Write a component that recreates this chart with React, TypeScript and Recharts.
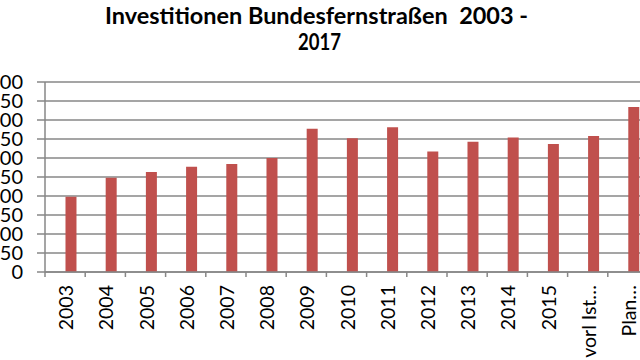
import React from 'react';
import { BarChart, Bar, XAxis, YAxis, CartesianGrid } from 'recharts';

const categories: string[] = [
  '2003', '2004', '2005', '2006', '2007', '2008', '2009', '2010',
  '2011', '2012', '2013', '2014', '2015', 'vorl Ist…', 'Plan…',
];
// empty first series (as in the original spreadsheet chart)
const emptySeries: (number | null)[] = [
  null, null, null, null, null, null, null, null,
  null, null, null, null, null, null, null,
];
const investitionen: number[] = [
  198, 248, 263, 277, 284, 300, 377, 352, 381, 317, 343, 354, 337, 358, 434,
];
const yTicks: number[] = [0, 50, 100, 150, 200, 250, 300, 350, 400, 450, 500];
const titleLine1 = 'Investitionen Bundesfernstraßen  2003 -';
const titleLine2 = '2017';

const data = categories.map((c, i) => ({
  name: c,
  leer: emptySeries[i],
  wert: investitionen[i],
}));

const GRID = '#878787';
const HALF_BAND = 20.1;
const FONT = "Lato, 'Liberation Sans', Arial, sans-serif";

const XTick = (props: any) => {
  const { x, y, payload } = props;
  const tx = x + 8;
  const ty = y + 8;
  return (
    <g>
      <line x1={x - HALF_BAND} y1={y - 5} x2={x - HALF_BAND} y2={y} stroke={GRID} strokeWidth={1.5} />
      <text
        x={tx}
        y={ty}
        transform={`rotate(-90, ${tx}, ${ty})`}
        textAnchor="end"
        fill="#000"
        fontSize={19.5}
        fontFamily={FONT}
      >
        {payload.value}
      </text>
    </g>
  );
};

export default function App() {
  return (
    <div style={{ position: 'absolute', left: 0, top: 0, width: 640, height: 360, overflow: 'hidden', background: '#fff' }}>
      <svg width={640} height={70} style={{ position: 'absolute', left: 0, top: 0 }}>
        <text
          x={105}
          y={24}
          textLength={423}
          lengthAdjust="spacingAndGlyphs"
          fontFamily={FONT}
          fontWeight="bold"
          fontSize={22}
          fill="#000"
          style={{ whiteSpace: 'pre' }}
        >
          {titleLine1}
        </text>
        <text
          x={298}
          y={50}
          textLength={43}
          lengthAdjust="spacingAndGlyphs"
          fontFamily={FONT}
          fontWeight="bold"
          fontSize={22}
          fill="#000"
        >
          {titleLine2}
        </text>
      </svg>
      <div style={{ position: 'absolute', left: 0, top: 0 }}>
        <BarChart
          width={660}
          height={360}
          data={data}
          margin={{ top: 82, right: 12, bottom: 0, left: 0 }}
          barCategoryGap="23.6%"
          barGap={0}
        >
          <CartesianGrid horizontal={true} vertical={false} stroke={GRID} strokeWidth={1.5} />
          <XAxis
            dataKey="name"
            height={88}
            interval={0}
            tickSize={5}
            tickMargin={0}
            tickLine={false}
            axisLine={{ stroke: GRID, strokeWidth: 1.5 }}
            tick={<XTick />}
          />
          <YAxis
            width={45}
            domain={[0, 500]}
            ticks={yTicks}
            interval={0}
            tickSize={8}
            tickMargin={14}
            axisLine={{ stroke: GRID, strokeWidth: 1.5 }}
            tickLine={{ stroke: GRID, strokeWidth: 1.5 }}
            tick={{ fill: '#000', fontSize: 20, fontFamily: FONT }}
          />
          <Bar dataKey="leer" fill="#4F81BD" isAnimationActive={false} />
          <Bar dataKey="wert" fill="#C0504D" isAnimationActive={false} />
        </BarChart>
      </div>
    </div>
  );
}
